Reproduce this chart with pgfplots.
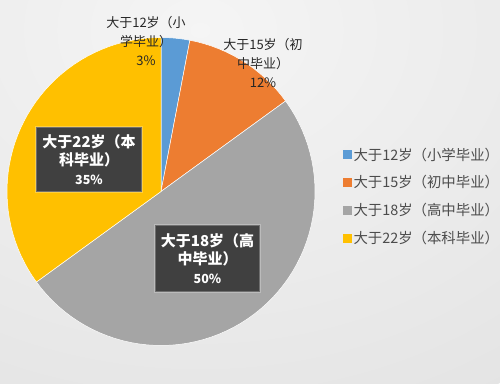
\documentclass[border=0pt]{standalone}
\usepackage{pgfplots}
\pgfplotsset{compat=1.18}
\usepackage{fontspec}
\setmainfont{Noto Sans CJK SC}
\definecolor{pieblue}{HTML}{5B9BD5}
\definecolor{pieorange}{HTML}{ED7D31}
\definecolor{piegray}{HTML}{A5A5A5}
\definecolor{pieyellow}{HTML}{FFC000}
\definecolor{boxgray}{HTML}{404040}
\pgfdeclareradialshading{bgshade}{\pgfpoint{0bp}{0bp}}{color(0bp)=(black!4); color(27bp)=(black!11); color(45bp)=(black!19); color(50bp)=(black!21)}
% shares in percent
\def\pA{3}\def\pB{12}\def\pC{50}\def\pD{35}
\pgfmathsetmacro\aA{90-3.6*\pA}
\pgfmathsetmacro\aB{\aA-3.6*\pB}
\pgfmathsetmacro\aC{\aB-3.6*\pC}
\pgfmathsetmacro\aD{\aC-3.6*\pD}
\def\cx{161}\def\cy{191.5}\def\rr{154}
\begin{document}
\begin{tikzpicture}[x=1pt,y=1pt]
\begin{scope}
\clip (0,0) rectangle (500,383);
\shade[shading=bgshade] (200,353) ellipse [x radius=550, y radius=421];
\end{scope}
\useasboundingbox (0,0) rectangle (500,383);
\begin{axis}[
  at={(0pt,0pt)}, anchor=south west,
  hide axis, scale only axis,
  width=500pt, height=383pt,
  xmin=0, xmax=500, ymin=0, ymax=383,
  enlargelimits=false, clip=false,
  legend style={at={(0.686,0.618)}, anchor=north west, draw=none, fill=none,
    inner sep=0pt, outer sep=0pt, row sep=11pt,
    font=\fontsize{14.4}{16.5}\selectfont, text=black!70,
    nodes={inner sep=1.5pt}},
  legend cell align=left,
  legend image code/.code={\fill[#1, draw=none] (0pt,-4.5pt) rectangle (9pt,4.5pt);},
]
\addplot[fill=pieblue, draw=white, line width=0.5pt, domain=\aA:90, samples=6, variable=\t]
  ({\cx+\rr*cos(\t)},{\cy+\rr*sin(\t)}) -- (axis cs:\cx,\cy) -- cycle;
\addlegendentry{大于12岁（小学毕业）}
\addplot[fill=pieorange, draw=white, line width=0.5pt, domain=\aB:\aA, samples=16, variable=\t]
  ({\cx+\rr*cos(\t)},{\cy+\rr*sin(\t)}) -- (axis cs:\cx,\cy) -- cycle;
\addlegendentry{大于15岁（初中毕业）}
\addplot[fill=piegray, draw=white, line width=0.5pt, domain=\aC:\aB, samples=60, variable=\t]
  ({\cx+\rr*cos(\t)},{\cy+\rr*sin(\t)}) -- (axis cs:\cx,\cy) -- cycle;
\addlegendentry{大于18岁（高中毕业）}
\addplot[fill=pieyellow, draw=white, line width=0.5pt, domain=\aD:\aC, samples=45, variable=\t]
  ({\cx+\rr*cos(\t)},{\cy+\rr*sin(\t)}) -- (axis cs:\cx,\cy) -- cycle;
\addlegendentry{大于22岁（本科毕业）}

\node[align=center, font=\fontsize{13}{19}\selectfont, text=black!85] at (axis cs:146,342) {大于12岁（小\\学毕业）\\3\%};
\node[align=center, font=\fontsize{13}{19}\selectfont, text=black!85] at (axis cs:263,320) {大于15岁（初\\中毕业）\\12\%};

\node[fill=boxgray, text=white, draw=white, draw opacity=0.25, line width=1.5pt,
  minimum width=106pt, minimum height=65pt, inner sep=0pt, align=center,
  font=\bfseries\fontsize{15}{18}\selectfont] at (axis cs:89,223.5)
  {大于22岁（本\\科毕业）\\[1pt]{\fontsize{12.5}{14}\selectfont 35\%}};
\node[fill=boxgray, text=white, draw=white, draw opacity=0.25, line width=1.5pt,
  minimum width=105pt, minimum height=67pt, inner sep=0pt, align=center,
  font=\bfseries\fontsize{15}{18}\selectfont] at (axis cs:207.5,124.5)
  {大于18岁（高\\中毕业）\\[1pt]{\fontsize{12.5}{14}\selectfont 50\%}};
\end{axis}
\end{tikzpicture}
\end{document}
